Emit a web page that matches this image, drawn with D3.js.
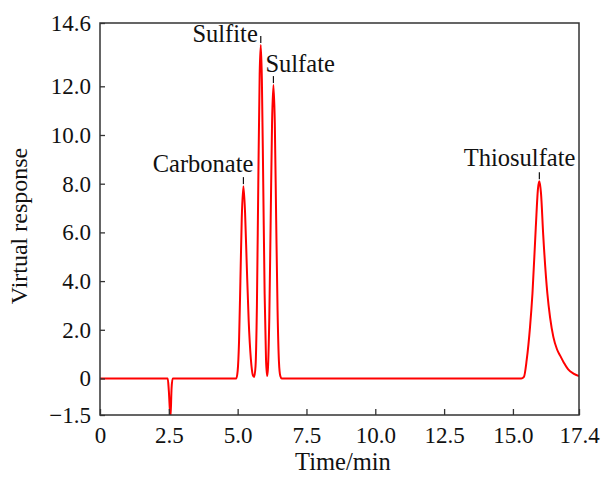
<!DOCTYPE html>
<html>
<head>
<meta charset="utf-8">
<script src="https://cdn.jsdelivr.net/npm/d3@7"></script>
<style>
    body { margin: 0; background: #fff; }
    svg text { font-family: "Liberation Serif", "Times New Roman", serif; fill: #111; }
</style>
</head>
<body>
<div id="chart"></div>
<script>
// chromatogram
var time = [0, 2.46, 2.5, 2.56, 2.6, 2.64,
    4.95, 5.0, 5.05, 5.1, 5.15, 5.21, 5.27, 5.33, 5.4, 5.48, 5.55, 5.6,
    5.65, 5.7, 5.75, 5.8, 5.84, 5.88, 5.93, 5.98, 6.03, 6.07,
    6.1, 6.15, 6.2, 6.25, 6.3, 6.35, 6.4, 6.45, 6.5, 6.55, 6.6,
    15.3, 15.4, 15.5, 15.62, 15.71, 15.83, 15.91, 15.96, 16.02, 16.1, 16.25, 16.35, 16.47, 16.6, 16.71, 16.85, 17.0, 17.2, 17.4];
var response = [0, 0, -0.5, -1.6, -0.4, 0,
    0, 0.3, 1.5, 4.0, 6.6, 7.9, 6.8, 4.7, 2.4, 0.8, 0.15, 0.06,
    0.5, 3.0, 8.0, 12.5, 13.7, 12.3, 8.0, 3.5, 0.8, 0.1,
    0.4, 2.5, 6.5, 10.5, 12.05, 10.5, 6.5, 2.8, 0.7, 0.1, 0,
    0, 0.07, 0.76, 2.1, 3.5, 6.2, 7.8, 8.1, 7.6, 5.9, 3.5, 2.5, 1.7, 1.2, 0.95, 0.65, 0.38, 0.2, 0.1];

var peakNames = ["Carbonate", "Sulfite", "Sulfate", "Thiosulfate"];
var peakTimes = [5.21, 5.84, 6.3, 15.96];

var xTicks = [0, 2.5, 5.0, 7.5, 10.0, 12.5, 15.0, 17.4];
var yTicks = [-1.5, 0, 2.0, 4.0, 6.0, 8.0, 10.0, 12.0, 14.6];

var width = 603;
var height = 477;
var margin = {left: 100, right: 24, top: 23, bottom: 62};

var svg = d3.select("#chart").append("svg")
    .attr("width", width)
    .attr("height", height);

var xScale = d3.scaleLinear()
    .domain([0, 17.4])
    .range([margin.left, width - margin.right]);

var yScale = d3.scaleLinear()
    .domain([-1.5, 14.6])
    .range([height - margin.bottom, margin.top]);

function fmt(d) {
    if (d === 0) return "0";
    return d3.format(".1f")(d).replace("-", "\u2212");
}

//坐标轴，刻度朝内
var xAxis = d3.axisBottom(xScale)
    .tickValues(xTicks)
    .tickSizeInner(-6)
    .tickSizeOuter(0)
    .tickPadding(12)
    .tickFormat(fmt);

var yAxis = d3.axisLeft(yScale)
    .tickValues(yTicks)
    .tickSizeInner(-5)
    .tickSizeOuter(0)
    .tickPadding(9)
    .tickFormat(fmt);

svg.append("clipPath")
    .attr("id", "clip")
    .append("rect")
    .attr("x", margin.left)
    .attr("y", margin.top)
    .attr("width", xScale(17.4) - margin.left)
    .attr("height", yScale(-1.5) - margin.top);

var data = time.map(function(t, i) { return [t, response[i]]; });

var line = d3.line()
    .x(function(d) { return xScale(d[0]); })
    .y(function(d) { return yScale(d[1]); })
    .curve(d3.curveMonotoneX);

svg.append("path")
    .datum(data)
    .attr("clip-path", "url(#clip)")
    .attr("d", line)
    .attr("fill", "none")
    .attr("stroke", "#ff0000")
    .attr("stroke-width", 2);

var gx = svg.append("g")
    .attr("transform", "translate(0," + yScale(-1.5) + ")")
    .call(xAxis);

var gy = svg.append("g")
    .attr("transform", "translate(" + margin.left + ",0)")
    .call(yAxis);

[gx, gy].forEach(function(g) {
    g.select(".domain").remove();
    g.selectAll(".tick line").attr("stroke", "#333").attr("stroke-width", 1.3);
    g.selectAll(".tick text").attr("font-size", 23).attr("fill", "#111");
});

//外框
svg.append("rect")
    .attr("x", margin.left)
    .attr("y", margin.top)
    .attr("width", xScale(17.4) - margin.left)
    .attr("height", yScale(-1.5) - margin.top)
    .attr("fill", "none")
    .attr("stroke", "#333")
    .attr("stroke-width", 1.5);

//峰标注
var anchors = ["end", "end", "start", "end"];
var offsetX = [10, -3, -8, 36];
var offsetY = [-5, 6, -4, -6];

peakTimes.forEach(function(t, i) {
    var idx = time.indexOf(t);
    var px = xScale(t);
    var py = yScale(response[idx]);
    var top = py - 9;
    svg.append("line")
        .attr("x1", px).attr("x2", px)
        .attr("y1", py - 2).attr("y2", top)
        .attr("stroke", "#111")
        .attr("stroke-width", 1.2);
    svg.append("text")
        .attr("x", px + offsetX[i])
        .attr("y", top + offsetY[i])
        .attr("text-anchor", anchors[i])
        .attr("font-size", 24.5)
        .text(peakNames[i]);
});

svg.append("text")
    .attr("x", 343)
    .attr("y", 470)
    .attr("text-anchor", "middle")
    .attr("font-size", 24.5)
    .text("Time/min");

svg.append("text")
    .attr("transform", "translate(27,226) rotate(-90)")
    .attr("text-anchor", "middle")
    .attr("font-size", 24)
    .text("Virtual response");
</script>
</body>
</html>
